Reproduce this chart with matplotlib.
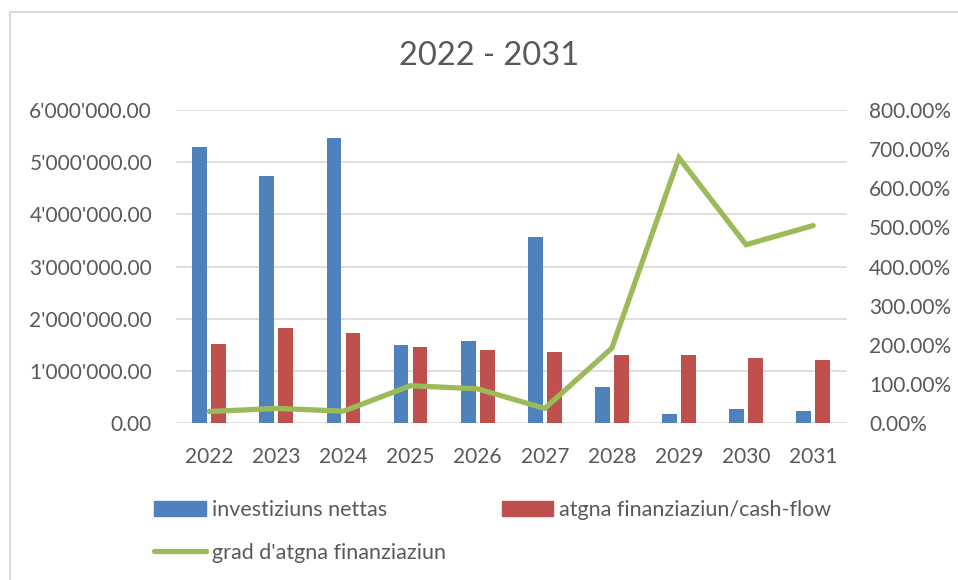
import matplotlib
matplotlib.use("Agg")
import matplotlib.pyplot as plt
from matplotlib.ticker import FuncFormatter, MultipleLocator
from matplotlib.patches import Rectangle
from matplotlib.lines import Line2D
from matplotlib.patches import Patch
import numpy as np

years = ["2022", "2023", "2024", "2025", "2026", "2027", "2028", "2029", "2030", "2031"]
investiziuns_nettas = [5300000, 4740000, 5470000, 1500000, 1580000, 3570000, 690000, 180000, 270000, 240000]
atgna_finanziaziun = [1520000, 1820000, 1720000, 1460000, 1400000, 1370000, 1310000, 1300000, 1250000, 1210000]
grad_finanziaziun = [30, 38, 31, 96, 88, 38, 192, 678, 456, 505]  # percent

title = "2022 - 2031"
label_inv = "investiziuns nettas"
label_atg = "atgna finanziaziun/cash-flow"
label_grad = "grad d'atgna finanziaziun"

BLUE = "#4f81bd"
RED = "#c0504d"
GREEN = "#9bbb59"
TXT = "#595959"
GRID = "#d9d9d9"

plt.rcParams["font.family"] = ["Lato", "DejaVu Sans"]

W, H = 958, 580
fig = plt.figure(figsize=(W / 100, H / 100), dpi=100)

# chart border
fig.patches.append(Rectangle((10 / W, 0 - 0.05), 1.1, (H - 12) / H + 0.05,
                             transform=fig.transFigure, fill=False,
                             edgecolor=GRID, linewidth=1.5))

left, right, top, bottom = 175.7, 846.7, 110, 423.3
ax = fig.add_axes([left / W, (H - bottom) / H, (right - left) / W, (bottom - top) / H])
ax2 = ax.twinx()

x = np.arange(len(years))
bw = 0.22
off = 0.142
ax.bar(x - off, investiziuns_nettas, width=bw, color=BLUE, zorder=3)
ax.bar(x + off, atgna_finanziaziun, width=bw, color=RED, zorder=3)
ax2.plot(x, grad_finanziaziun, color=GREEN, linewidth=3.8, solid_capstyle="round",
         solid_joinstyle="miter", zorder=4)

ax.set_xlim(-0.5, len(years) - 0.5)
ax.set_ylim(0, 6000000)
ax2.set_ylim(0, 800)
ax.yaxis.set_major_locator(MultipleLocator(1000000))
ax2.yaxis.set_major_locator(MultipleLocator(100))
ax.yaxis.set_major_formatter(FuncFormatter(lambda v, p: f"{v:,.2f}".replace(",", "'")))
ax2.yaxis.set_major_formatter(FuncFormatter(lambda v, p: f"{v:.2f}%"))
ax.set_xticks(x)
ax.set_xticklabels(years)

ax.grid(axis="y", color=GRID, linewidth=1.2, zorder=0)
ax.set_axisbelow(True)
for a in (ax, ax2):
    for s in a.spines.values():
        s.set_visible(False)
    a.tick_params(length=0, labelsize=15, labelcolor=TXT)
ax.tick_params(axis="y", pad=17)
ax2.tick_params(axis="y", pad=16)
ax.tick_params(axis="x", pad=17)

fig.text(489 / W, (H - 56) / H, title, ha="center", va="center", fontsize=23.5, color=TXT)

handles = [Patch(color=BLUE, label=label_inv),
           Line2D([0], [0], color=GREEN, linewidth=3.8, solid_capstyle="round", label=label_grad),
           Patch(color=RED, label=label_atg)]
leg = fig.legend(handles=handles, ncol=2, loc="upper left",
                 bbox_to_anchor=(154 / W, (H - 500) / H), frameon=False,
                 fontsize=15.5, handlelength=2.4, handletextpad=0.28,
                 columnspacing=2.6, labelspacing=1.05, borderpad=0, borderaxespad=0)
for t in leg.get_texts():
    t.set_color(TXT)

fig.savefig("out.png", dpi=100)
